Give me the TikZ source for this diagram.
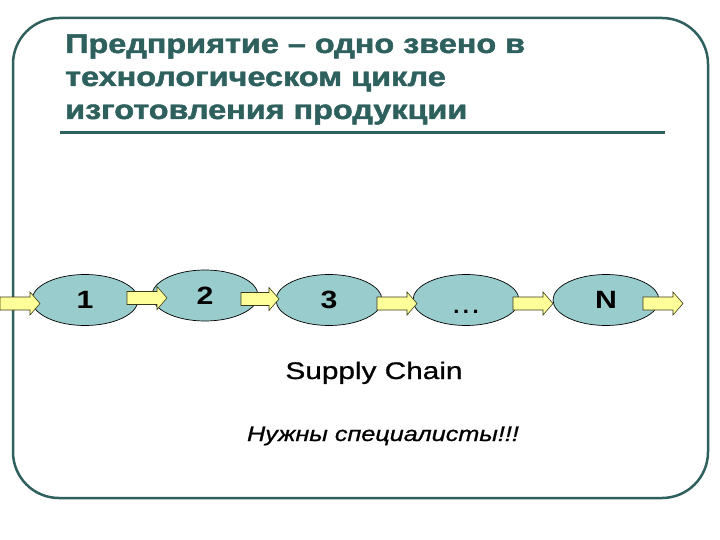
\documentclass[tikz,border=0pt]{standalone}
\usepackage{fontspec}
\setmainfont{Liberation Sans}
\newfontfamily\heavyfont[FakeBold=1.6]{Liberation Sans Bold}
\newfontfamily\medfont[FakeBold=0.8,ItalicFont=Liberation Sans Italic,ItalicFeatures={FakeBold=0.8}]{Liberation Sans}
\usetikzlibrary{shapes.geometric}
\definecolor{teal1}{RGB}{46,96,94}
\definecolor{ellfill}{RGB}{153,204,204}
\definecolor{arrfill}{RGB}{255,255,153}
\definecolor{arrline}{RGB}{60,60,20}
\newcommand\wide[1]{\scalebox{1.21}[1]{#1}}
\newcommand\blockarr[4]{% name, xstart, xtip, ymid
  \draw[arrowbox] (#2,#4-6.5) -- (#3-10,#4-6.5) -- (#3-10,#4-11.5) -- (#3,#4) -- (#3-10,#4+11.5) -- (#3-10,#4+6.5) -- (#2,#4+6.5) -- cycle;
  \coordinate (#1) at (#3,#4);}
\begin{document}
\begin{tikzpicture}[x=1pt,y=-1pt,
  frame/.style={draw=teal1,line width=2.5pt,rounded corners=46pt},
  titletxt/.style={anchor=base west,inner sep=0pt,text=teal1,font=\fontsize{27}{27}\heavyfont},
  ell/.style={ellipse,draw=black,line width=0.7pt,fill=ellfill,minimum width=106pt,minimum height=51pt,inner sep=0pt,font=\fontsize{25}{25}\selectfont\bfseries},
  arrowbox/.style={draw=arrline,line width=0.6pt,fill=arrfill}]
\useasboundingbox (0,0) rectangle (720,540);
\fill[white] (0,0) rectangle (720,540);
\draw[frame] (13,18) rectangle (708,498);
\node[titletxt] (t1) at (65,53) {\scalebox{1.2}[1]{Предприятие – одно звено в}};
\node[titletxt] (t2) at (65,86) {\scalebox{1.2}[1]{технологическом цикле}};
\node[titletxt] (t3) at (65,119) {\scalebox{1.2}[1]{изготовления продукции}};
\draw[teal1,line width=3pt] (60,133) -- (665,133);
\node[ell] (e1) at (85,300) {\wide{1}};
\node[ell] (e2) at (205,295.5) {\wide{2}};
\node[ell] (e3) at (329,300) {\wide{3}};
\node[ell] (e4) at (466,300) {};
\node[anchor=base,inner sep=0pt,font=\fontsize{22}{22}\selectfont\bfseries] (dots) at (466,313) {.\hspace{3.5pt}.\hspace{3.5pt}.};
\node[ell] (e5) at (606,300) {\wide{N}};
\blockarr{a0}{0}{40}{303.5}
\blockarr{a1}{127}{167}{298}
\blockarr{a2}{241}{279}{299}
\blockarr{a3}{377}{417}{303.5}
\blockarr{a4}{513}{553}{303.5}
\blockarr{a5}{643}{683}{303.5}
\node[anchor=base,inner sep=0pt,font=\fontsize{24}{24}\medfont] (sc) at (374,379) {\scalebox{1.24}[1]{Supply Chain}};
\node[anchor=base,inner sep=0pt,font=\fontsize{21}{21}\medfont\itshape] (nz) at (383,441) {\scalebox{1.2}[1]{Нужны специалисты!!!}};
\end{tikzpicture}
\end{document}
